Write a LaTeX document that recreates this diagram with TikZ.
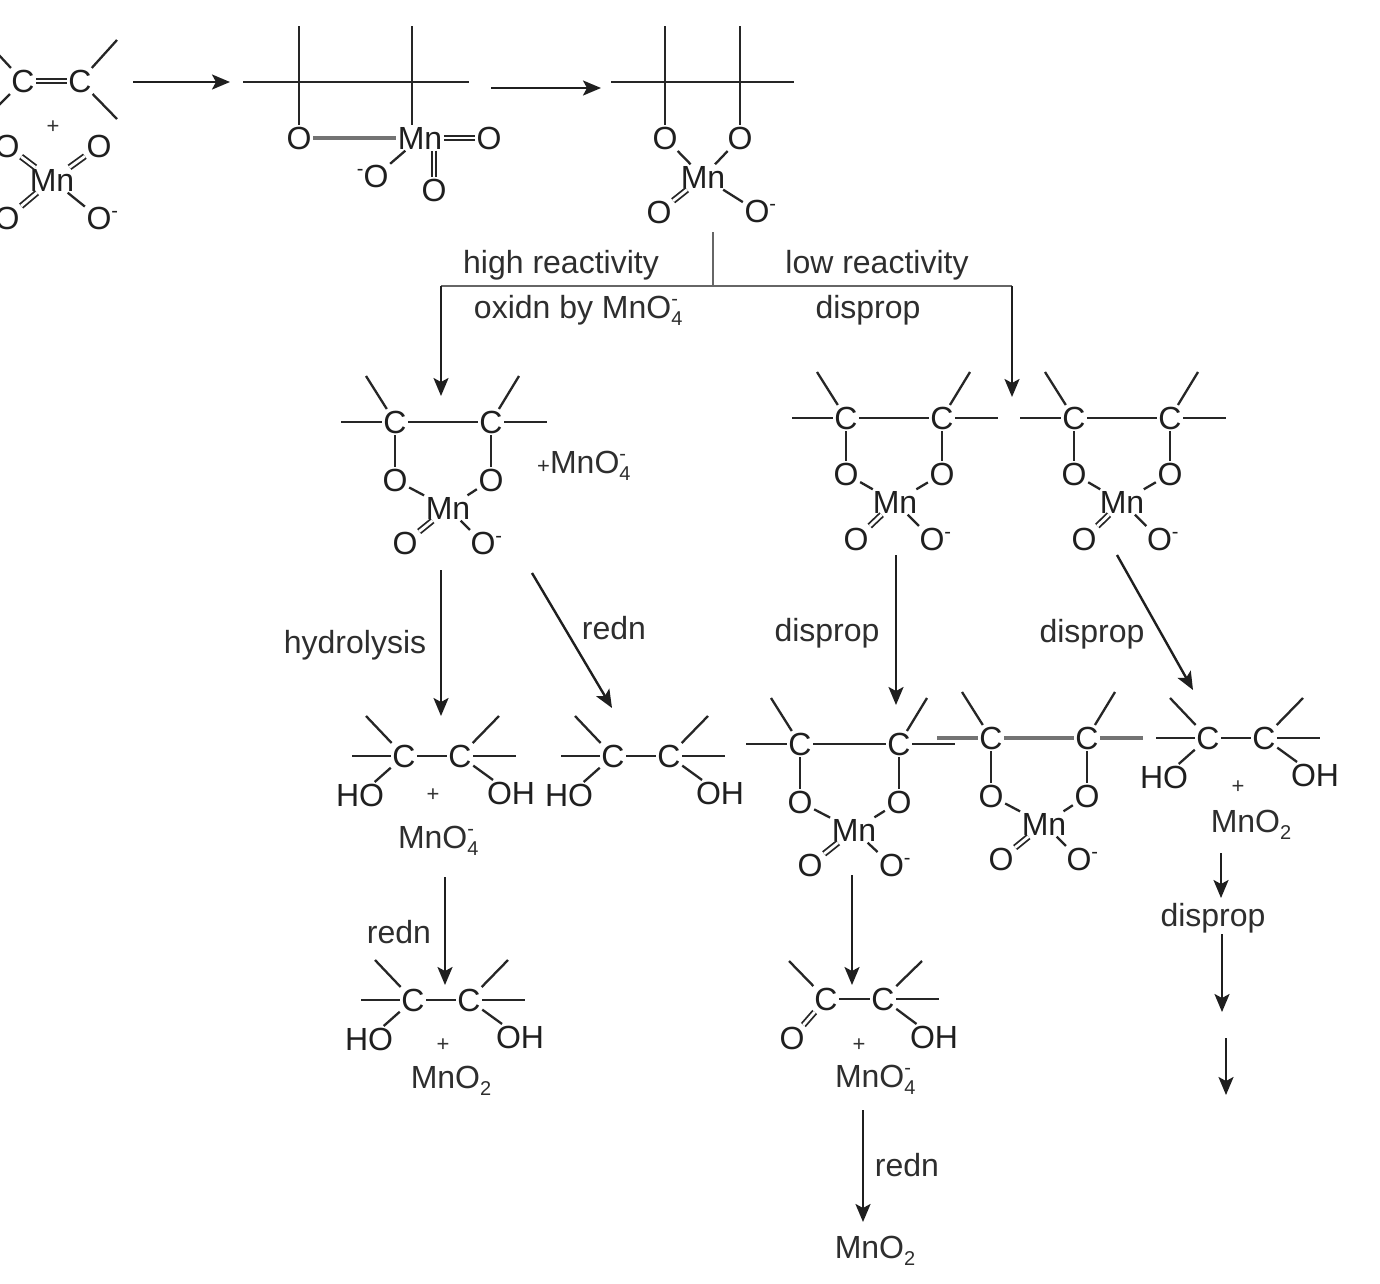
\documentclass[tikz,border=0pt]{standalone}
\usepackage{fontspec}
\setmainfont{Liberation Sans}
\usetikzlibrary{arrows.meta}
\newcommand{\smallf}{\fontsize{20}{22}\selectfont}
\newcommand{\Ominus}{O\rlap{\raisebox{12pt}{\smallf -}}}
\newcommand{\minusO}{\llap{\raisebox{12pt}{\smallf -}}O}
\newcommand{\MnOfour}{MnO\rlap{\raisebox{-7pt}{\smallf 4}}\raisebox{13pt}{\smallf -}}
\newcommand{\MnOtwo}{MnO\raisebox{-7pt}{\smallf 2}}
\tikzset{
  x=1pt,y=-1pt,
  atom/.style={font=\fontsize{32}{36}\selectfont,text=black!88,inner sep=1.5pt},
  tiny/.style={font=\fontsize{22}{24}\selectfont,text=black!80,inner sep=0pt},
  lab/.style={font=\fontsize{32}{36}\selectfont,text=black!82,inner sep=0pt},
  bond/.style={draw=black!85,line width=2.3pt},
  thickbond/.style={draw=black!55,line width=4.5pt},
  dbond/.style={draw=black!85,double,double distance=2.8pt,line width=1.8pt},
  arrowline/.style={draw=black!88,line width=2.4pt,-{Stealth[length=18pt,width=15pt,inset=4pt]}},
  branch/.style={draw=black!60,line width=2.4pt},
}
% name, dx, dy, extra width, style of the horizontal bonds, lower y shift, Mn x shift
\newcommand{\ester}[7]{%
\begin{scope}[shift={(#2,#3)},name prefix=#1-]
  \node[atom] (c1) at (395,422) {C};
  \node[atom] (c2) at (491+#4,422) {C};
  \node[atom] (o1) at (395,480+#6) {O};
  \node[atom] (o2) at (491+#4,480+#6) {O};
  \node[atom] (mn) at (448+#7,508+#6) {Mn};
  \node[atom] (o3) at (405,543) {O};
  \node[atom] (o4) at (483+#4+#7/2,543) {\Ominus};
  \coordinate (l) at (341,422);
  \coordinate (r) at (547+#4,422);
  \coordinate (tl) at (366,376);
  \coordinate (tr) at (519+#4,376);
  \draw[#5] (l) -- (c1);
  \draw[#5] (c1) -- (c2);
  \draw[#5] (c2) -- (r);
  \draw[bond] (tl) -- (c1);
  \draw[bond] (tr) -- (c2);
  \draw[bond] (c1) -- (o1);
  \draw[bond] (c2) -- (o2);
  \draw[bond] (o1) -- (mn);
  \draw[bond] (o2) -- (mn);
  \draw[dbond] (o3) -- (mn);
  \draw[bond] (o4) -- (mn);
\end{scope}}
% name, dx, dy
\newcommand{\glycol}[3]{%
\begin{scope}[shift={(#2,#3)},name prefix=#1-]
  \node[atom] (c1) at (404,756) {C};
  \node[atom] (c2) at (460,756) {C};
  \node[atom] (ho) at (360,795) {HO};
  \node[atom] (oh) at (511,793) {OH};
  \coordinate (l) at (352,756);
  \coordinate (r) at (516,756);
  \coordinate (tl) at (366,716);
  \coordinate (tr) at (499,716);
  \draw[bond] (l) -- (c1);
  \draw[bond] (c1) -- (c2);
  \draw[bond] (c2) -- (r);
  \draw[bond] (tl) -- (c1);
  \draw[bond] (tr) -- (c2);
  \draw[bond] (c1) -- (ho);
  \draw[bond] (c2) -- (oh);
\end{scope}}
\newcommand{\arr}[5]{%
  \coordinate (#1s) at (#2,#3);
  \coordinate (#1e) at (#4,#5);
  \draw[arrowline] (#1s) -- (#1e);}
\begin{document}
\begin{tikzpicture}
\useasboundingbox (0,0) rectangle (1380,1283);
\clip (0,0) rectangle (1380,1283);
\fill[white] (0,0) rectangle (1380,1283);

% first reactants
\node[atom] (ac1) at (23,81) {C};
\node[atom] (ac2) at (80,81) {C};
\coordinate (atl) at (-15,40);
\coordinate (abl) at (-15,119);
\coordinate (atr) at (117,40);
\coordinate (abr) at (117,119);
\draw[dbond] (ac1) -- (ac2);
\draw[bond] (atl) -- (ac1);
\draw[bond] (abl) -- (ac1);
\draw[bond] (atr) -- (ac2);
\draw[bond] (abr) -- (ac2);
\node[tiny] (aplus) at (53,127) {+};
\node[atom] (amn) at (52,180) {Mn};
\node[atom] (ao1) at (7,146) {O};
\node[atom] (ao2) at (99,146) {O};
\node[atom] (ao3) at (7,218) {O};
\node[atom] (ao4) at (99,218) {\Ominus};
\draw[dbond] (ao1) -- (amn);
\draw[dbond] (ao2) -- (amn);
\draw[dbond] (ao3) -- (amn);
\draw[bond] (ao4) -- (amn);

\arr{a1}{133}{82}{230}{82}

% second intermediate
\coordinate (bl) at (243,82);
\coordinate (br) at (469,82);
\coordinate (bt1) at (299,26);
\coordinate (bt2) at (412,26);
\node[atom] (bo1) at (299,138) {O};
\node[atom] (bmn) at (420,138) {Mn};
\node[atom] (bo2) at (489,138) {O};
\node[atom] (bo3) at (376,176) {\minusO};
\node[atom] (bo4) at (434,190) {O};
\draw[bond] (bl) -- (br);
\draw[bond] (bt1) -- (bo1);
\draw[bond] (bt2) -- (bt2 |- bmn.north);
\draw[thickbond] (bo1) -- (bmn);
\draw[dbond] (bmn) -- (bo2);
\draw[bond] (bmn) -- (bo3);
\draw[dbond] (bo4 |- bmn.south) -- (bo4);

\arr{a2}{491}{88}{601}{88}

% third intermediate
\coordinate (dl) at (611,82);
\coordinate (dr) at (794,82);
\coordinate (dt1) at (665,26);
\coordinate (dt2) at (740,26);
\node[atom] (do1) at (665,138) {O};
\node[atom] (do2) at (740,138) {O};
\node[atom] (dmn) at (703,177) {Mn};
\node[atom] (do3) at (659,212) {O};
\node[atom] (do4) at (757,211) {\Ominus};
\draw[bond] (dl) -- (dr);
\draw[bond] (dt1) -- (do1);
\draw[bond] (dt2) -- (do2);
\draw[bond] (do1) -- (dmn);
\draw[bond] (do2) -- (dmn);
\draw[dbond] (do3) -- (dmn);
\draw[bond] (do4) -- (dmn);

% branch
\coordinate (b0) at (713,232);
\coordinate (b1) at (713,286);
\coordinate (b2) at (441,286);
\coordinate (b3) at (1012,286);
\coordinate (b2e) at (441,396);
\coordinate (b3e) at (1012,397);
\draw[branch] (b0) -- (b1);
\draw[branch] (b2) -- (b3);
\draw[arrowline] (b2) -- (b2e);
\draw[arrowline] (b3) -- (b3e);
\node[lab] (t1) at (561,265) {high reactivity};
\node[lab] (t2) at (576,310) {oxidn by \MnOfour};
\node[lab] (t3) at (877,265) {low reactivity};
\node[lab] (t4) at (868,310) {disprop};

% esters
\ester{ea}{0}{0}{0}{bond}{0}{0}
\ester{eb}{451}{-4}{0}{bond}{-2}{-4}
\ester{ec}{679}{-4}{0}{bond}{-2}{-5}
\ester{ed}{405}{322}{3}{bond}{0}{1}
\ester{ee}{596}{316}{0}{thickbond}{0}{0}
\node[lab,anchor=west] (t6) at (537,466) {\fontsize{22}{24}\selectfont+\fontsize{32}{36}\selectfont\MnOfour};

\arr{a3}{441}{570}{441}{716}
\arr{a4}{532}{573}{612}{708}
\arr{a5}{896}{555}{896}{705}
\arr{a6}{1117}{555}{1193}{690}
\node[lab] (t7) at (355,645) {hydrolysis};
\node[lab] (t8) at (614,628) {redn};
\node[lab] (t9) at (827,633) {disprop};
\node[lab] (t10) at (1092,634) {disprop};

% diols
\glycol{ga}{0}{0}
\node[tiny] (pa) at (433,795) {+};
\node[lab] (ma) at (436,841) {\MnOfour};
\glycol{gb}{209}{0}
\glycol{gc}{9}{244}
\node[tiny] (pc) at (443,1045) {+};
\node[lab] (mc) at (451,1081) {\MnOtwo};
\glycol{gd}{804}{-18}
\node[tiny] (pd) at (1238,787) {+};
\node[lab] (md) at (1251,825) {\MnOtwo};

\arr{a7}{445}{877}{445}{985}
\node[lab] (t11) at (399,932) {redn};
\arr{a8}{852}{875}{852}{985}
\arr{a9}{1221}{853}{1221}{898}
\node[lab] (t12) at (1213,918) {disprop};
\arr{a10}{1222}{934}{1222}{1012}
\arr{a11}{1226}{1038}{1226}{1095}

% keto product
\node[atom] (kc1) at (826,999) {C};
\node[atom] (kc2) at (883,999) {C};
\node[atom] (ko) at (792,1038) {O};
\node[atom] (koh) at (934,1037) {OH};
\coordinate (ktl) at (789,961);
\coordinate (ktr) at (922,961);
\coordinate (kr) at (939,999);
\draw[bond] (kc1) -- (kc2);
\draw[bond] (kc2) -- (kr);
\draw[bond] (ktl) -- (kc1);
\draw[bond] (ktr) -- (kc2);
\draw[dbond] (kc1) -- (ko);
\draw[bond] (kc2) -- (koh);
\node[tiny] (pk) at (859,1045) {+};
\node[lab] (mk) at (873,1080) {\MnOfour};
\arr{a12}{863}{1110}{863}{1222}
\node[lab] (t13) at (907,1165) {redn};
\node[lab] (mz) at (875,1251) {\MnOtwo};
\end{tikzpicture}
\end{document}
